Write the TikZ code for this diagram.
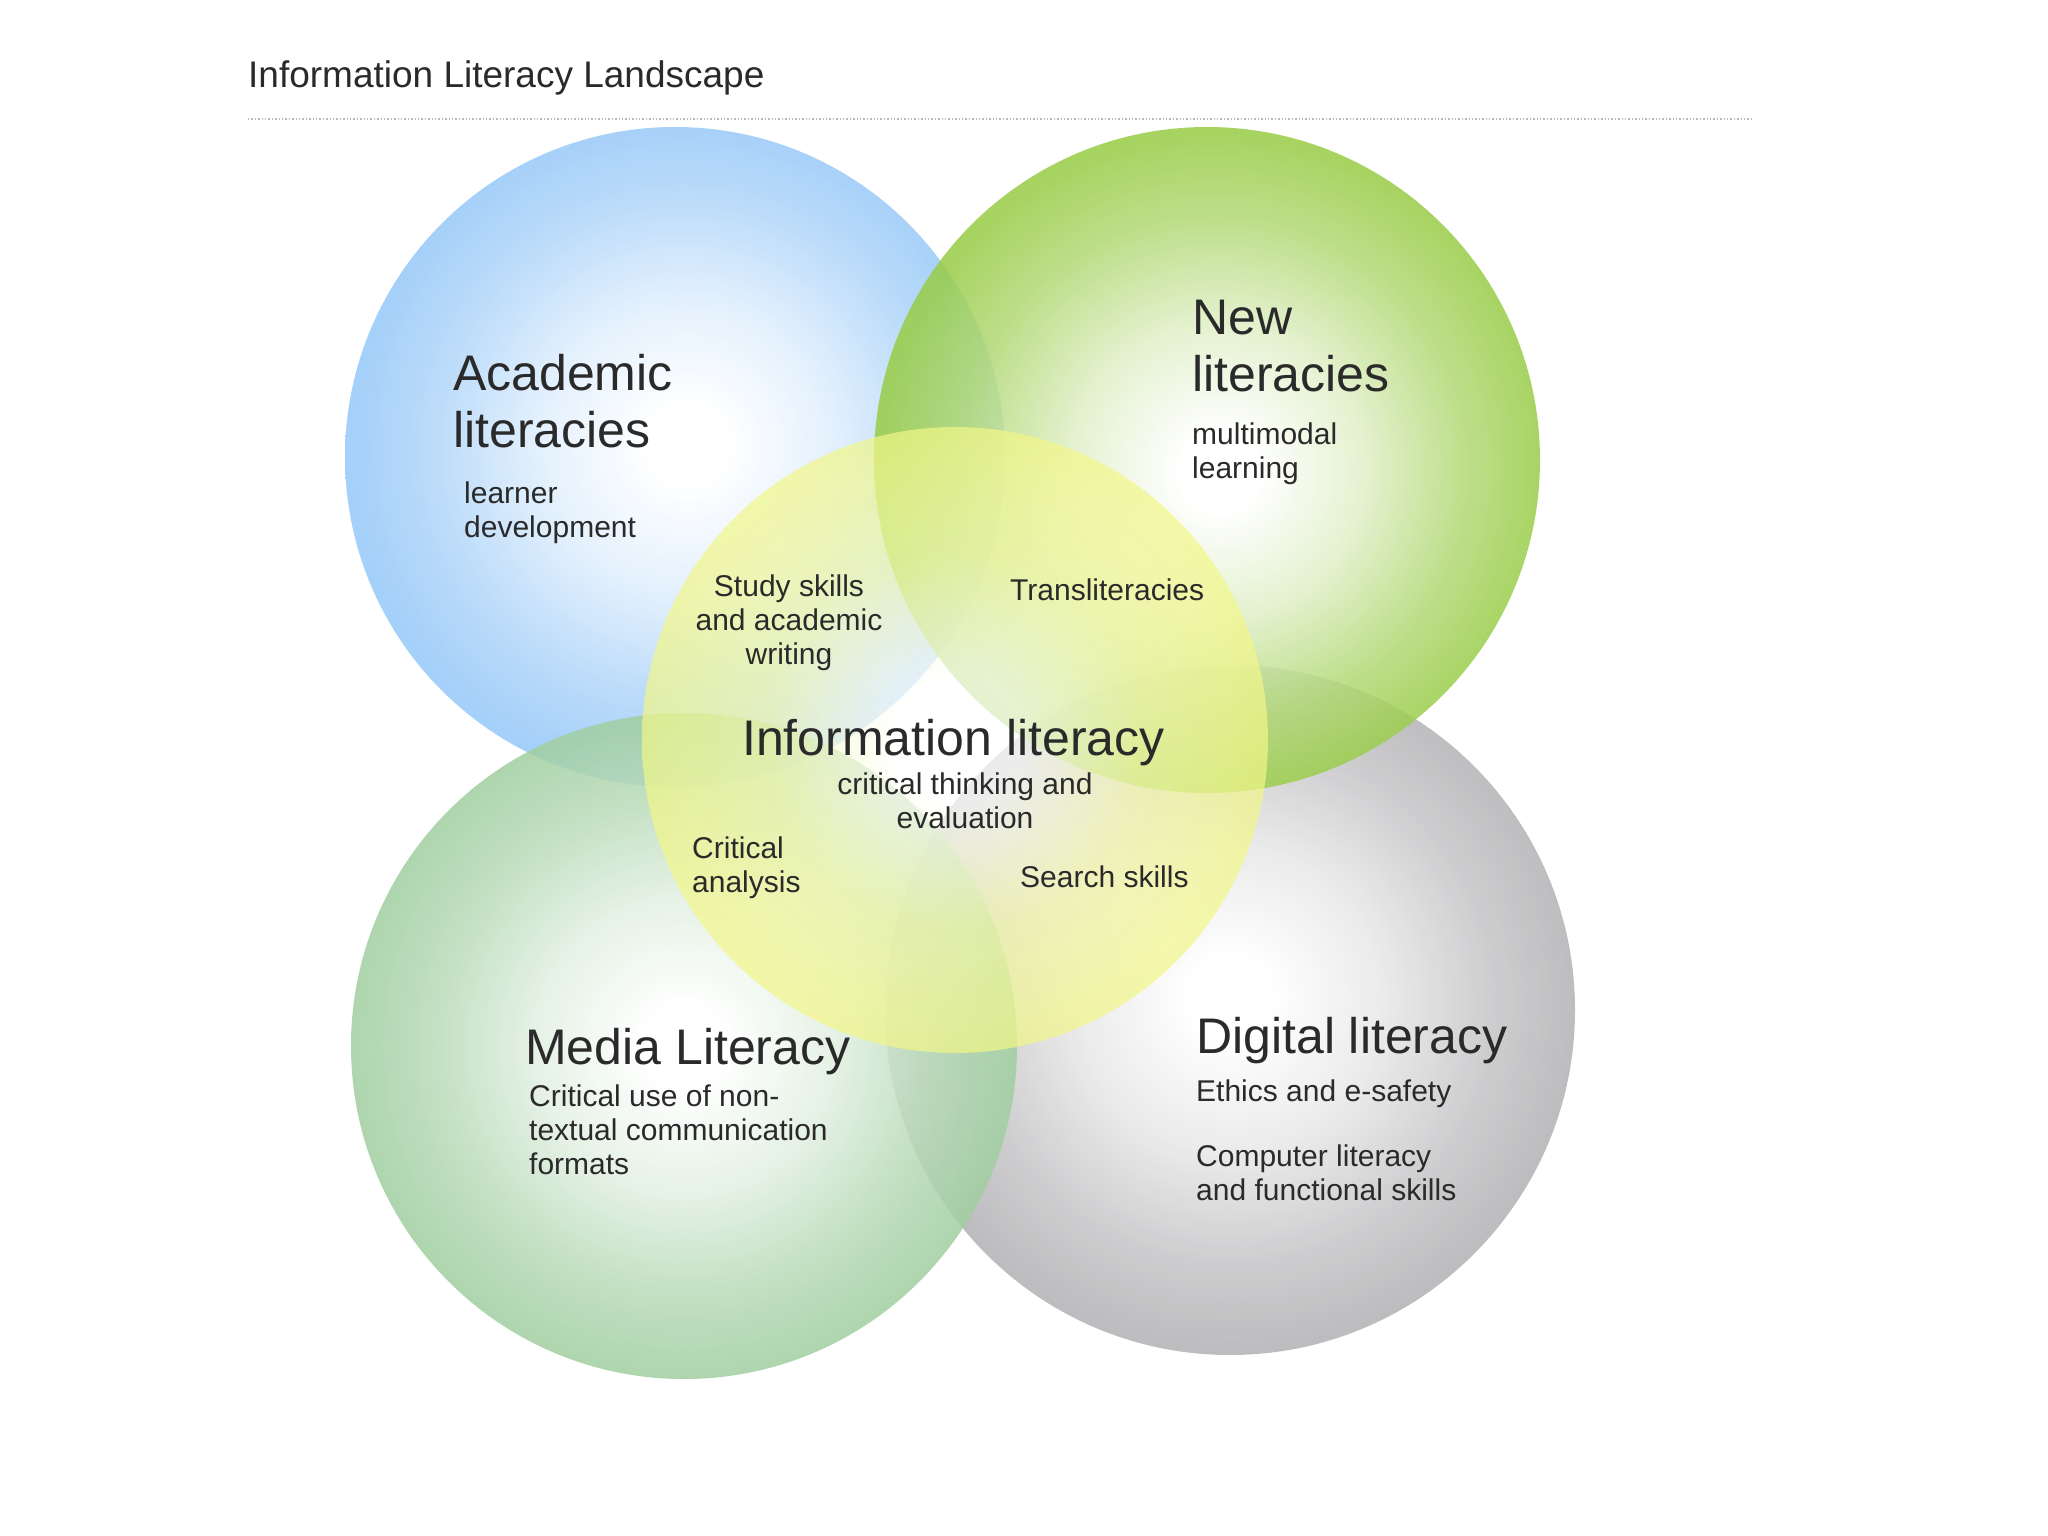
\documentclass[tikz,border=0pt]{standalone}
\usepackage{fontspec}
\setmainfont{Liberation Sans}
\usetikzlibrary{positioning}

\definecolor{acadblue}{RGB}{150,200,248}
\definecolor{newgreen}{RGB}{152,204,70}
\definecolor{mediagreen}{RGB}{160,206,160}
\definecolor{digigray}{RGB}{178,178,181}
\definecolor{infoyellow}{RGB}{242,247,135}
\definecolor{inktext}{RGB}{42,42,42}

% radial shadings, white in the middle, full colour at the rim
\pgfdeclareradialshading{acadshade}{\pgfpoint{1bp}{1bp}}{color(0bp)=(white); color(3bp)=(white);
  color(11bp)=(acadblue!30!white); color(19bp)=(acadblue!75!white); color(25bp)=(acadblue); color(50bp)=(acadblue)}
\pgfdeclareradialshading{newshade}{\pgfpoint{1bp}{-1bp}}{color(0bp)=(white); color(3bp)=(white);
  color(11bp)=(newgreen!30!white); color(19bp)=(newgreen!75!white); color(25bp)=(newgreen); color(50bp)=(newgreen)}
\pgfdeclareradialshading{mediashade}{\pgfpointorigin}{color(0bp)=(white); color(3bp)=(white);
  color(11bp)=(mediagreen!30!white); color(19bp)=(mediagreen!75!white); color(25bp)=(mediagreen); color(50bp)=(mediagreen)}
\pgfdeclareradialshading{digishade}{\pgfpoint{0bp}{1bp}}{color(0bp)=(white); color(3bp)=(white);
  color(11bp)=(digigray!30!white); color(19bp)=(digigray!75!white); color(25bp)=(digigray); color(50bp)=(digigray)}
\pgfdeclareradialshading{infoshade}{\pgfpointorigin}{color(0bp)=(white); color(5bp)=(white);
  color(15bp)=(infoyellow!70!white); color(25bp)=(infoyellow); color(50bp)=(infoyellow)}

\begin{document}
\begin{tikzpicture}[x=1pt, y=-1pt]

        \tikzset{
            ring/.style={circle, inner sep=0pt, minimum size=#1},
            heading/.style={inner sep=0pt, text=inktext,
                font=\fontsize{50}{57}\selectfont},
            note/.style={inner sep=0pt, text=inktext,
                font=\fontsize{30}{34}\selectfont},
        }

        \fill[white] (0,0) rectangle (2048,1536);
        \useasboundingbox (0,0) rectangle (2048,1536);

        % title and the dotted rule under it
        \node[anchor=base west, inner sep=0pt, text=inktext,
            font=\fontsize{37}{42}\selectfont] (title) at (248,88)
            {Information Literacy Landscape};
        \coordinate (ruleW) at (248,119);
        \coordinate (ruleE) at (1754,119);
        \draw[gray!55, dotted, line width=1.4pt] (ruleW) -- (ruleE);

        % the four outer circles
        \begin{scope}[fill opacity=0.85]
            \node[ring=660pt, shading=acadshade] (AL) at (675,457) {};
            \node[ring=690pt, shading=digishade] (DL) at (1230,1010) {};
            \node[ring=666pt, shading=mediashade] (ML) at (684,1046) {};
            \node[ring=666pt, shading=newshade] (NL) at (1207,460) {};
        \end{scope}

        % information literacy on top
        \node[ring=626pt, shading=infoshade, fill opacity=0.7] (IL) at (955,740) {};

        % labels
        \node[heading, anchor=north west, align=left] (ALt) at (453,354)
            {Academic\\literacies};
        \node[note, anchor=north west, align=left] (ALs) at (464,482)
            {learner\\development};

        \node[heading, anchor=north west, align=left] (NLt) at (1192,300)
            {New\\literacies};
        \node[note, anchor=north west, align=left] (NLs) at (1192,423)
            {multimodal\\learning};

        \node[note, anchor=north, align=center] (A1) at (789,575)
            {Study skills\\and academic\\writing};
        \node[note, anchor=base west] (A2) at (1010,600) {Transliteracies};

        \node[heading, anchor=base west] (ILt) at (742,755) {Information literacy};
        \node[note, anchor=north, align=center] (ILs) at (965,773)
            {critical thinking and\\evaluation};

        \node[note, anchor=north west, align=left] (B1) at (692,837)
            {Critical\\analysis};
        \node[note, anchor=base west] (B2) at (1020,887) {Search skills};

        \node[heading, anchor=base west] (MLt) at (525,1064) {Media Literacy};
        \node[note, anchor=north west, align=left] (MLs) at (529,1085)
            {Critical use of non-\\textual communication\\formats};

        \node[heading, anchor=base west] (DLt) at (1196,1053) {Digital literacy};
        \node[note, anchor=base west] (DLs) at (1196,1101) {Ethics and e-safety};
        \node[note, anchor=north west, align=left] (DLc) at (1196,1145)
            {Computer literacy\\and functional skills};

\end{tikzpicture}
\end{document}
